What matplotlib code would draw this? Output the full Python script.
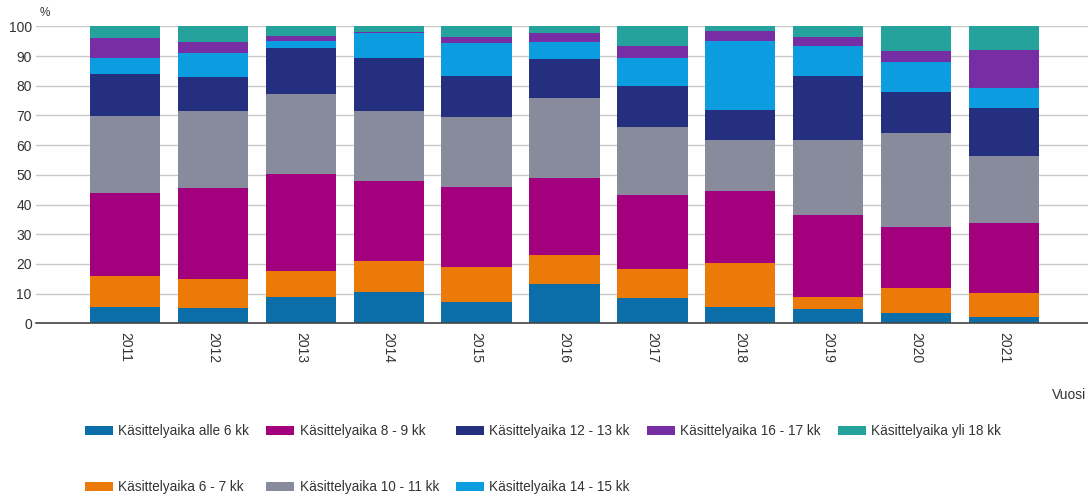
import numpy as np
import matplotlib
matplotlib.use("Agg")
import matplotlib.pyplot as plt
from matplotlib.patches import Patch

plt.rcParams['font.family'] = ['Liberation Sans', 'DejaVu Sans']

years = ['2011', '2012', '2013', '2014', '2015', '2016',
         '2017', '2018', '2019', '2020', '2021']

series_names = [
    'Käsittelyaika alle 6 kk',
    'Käsittelyaika 6 - 7 kk',
    'Käsittelyaika 8 - 9 kk',
    'Käsittelyaika 10 - 11 kk',
    'Käsittelyaika 12 - 13 kk',
    'Käsittelyaika 14 - 15 kk',
    'Käsittelyaika 16 - 17 kk',
    'Käsittelyaika yli 18 kk',
]

alle_6 = [5.6, 5.1, 9.0, 10.4, 7.1, 13.1, 8.4, 5.6, 4.7, 3.4, 2.2]
kk_6_7 = [10.3, 9.7, 8.7, 10.6, 11.8, 9.9, 10.0, 14.8, 4.3, 8.4, 7.9]
kk_8_9 = [28.1, 30.7, 32.5, 26.9, 27.1, 25.8, 24.8, 24.3, 27.5, 20.7, 23.8]
kk_10_11 = [25.8, 25.9, 26.9, 23.6, 23.4, 27.2, 22.8, 17.0, 25.2, 31.7, 22.4]
kk_12_13 = [14.0, 11.5, 15.5, 17.7, 13.7, 12.9, 14.0, 10.1, 21.4, 13.8, 16.3]
kk_14_15 = [5.5, 8.1, 2.5, 8.6, 11.2, 5.9, 9.3, 23.4, 10.4, 10.1, 6.7]
kk_16_17 = [6.7, 3.6, 1.6, 0.2, 2.2, 2.8, 4.2, 3.2, 3.0, 3.7, 12.8]
yli_18 = [4.0, 5.4, 3.3, 2.0, 3.5, 2.4, 6.5, 1.6, 3.5, 8.2, 7.9]

series_values = [alle_6, kk_6_7, kk_8_9, kk_10_11,
                 kk_12_13, kk_14_15, kk_16_17, yli_18]

colors = ['#0b6ea9', '#ec7a08', '#a3007d', '#888b9b',
          '#24307f', '#0b9de0', '#772da3', '#25a29c']

y_ticks = [0, 10, 20, 30, 40, 50, 60, 70, 80, 90, 100]

W, H = 1088, 495
fig = plt.figure(figsize=(W / 100, H / 100), dpi=100)
ax = fig.add_axes([36 / W, (H - 323.3) / H, 1 - 36 / W, 297 / H])

x = np.arange(len(years))
bottom = np.zeros(len(years))
for name, vals, col in zip(series_names, series_values, colors):
    vals = np.asarray(vals)
    ax.bar(x, vals, width=0.8, bottom=bottom, color=col,
           edgecolor='none', zorder=3, label=name)
    bottom += vals

ax.set_xlim(-1.0125, 10.956)
ax.set_ylim(0, 100)
ax.set_yticks(y_ticks)
ax.set_yticklabels([str(t) for t in y_ticks])
ax.set_xticks(x)
ax.set_xticklabels(years, rotation=270)

ax.grid(axis='y', color='#c8c8c8', linewidth=1, zorder=0)
ax.set_axisbelow(True)
for s in ['top', 'right', 'left']:
    ax.spines[s].set_visible(False)
ax.spines['bottom'].set_color('#444444')
ax.spines['bottom'].set_linewidth(1.2)
ax.spines['bottom'].set_zorder(4)

ax.tick_params(axis='y', length=0, pad=3, labelsize=10, labelcolor='#333333')
ax.tick_params(axis='x', length=0, pad=6, labelsize=10, labelcolor='#333333')

fig.text(40 / W, 1 - 13 / H, '%', fontsize=8.5, color='#333333',
         ha='left', va='center')
fig.text(1052 / W, 1 - 395 / H, 'Vuosi', fontsize=10, color='#333333',
         ha='left', va='center')

handles = [Patch(facecolor=c, edgecolor='none') for c in colors]
fig.legend(handles, series_names, loc='upper left',
           bbox_to_anchor=(85 / W, 1 - 424 / H), ncol=5, frameon=False,
           fontsize=9.8, handlelength=2.05, handleheight=0.65,
           handletextpad=0.4, columnspacing=1.25, labelspacing=3.12,
           borderpad=0, borderaxespad=0, labelcolor='#333333')

fig.savefig('out.png', dpi=100)
